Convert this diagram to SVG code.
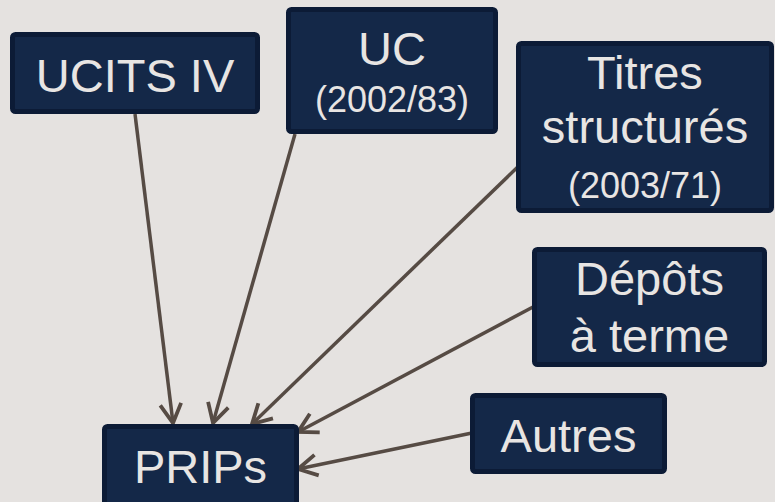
<svg xmlns="http://www.w3.org/2000/svg" width="775" height="502" viewBox="0 0 775 502">
  <style>
    .box { fill: #142848; stroke: #0c1b36; stroke-width: 5; }
    .lbl { fill: #e8e5e3; font-family: "Liberation Sans", Arial, sans-serif; text-anchor: middle; }
    .big { font-size: 47px; }
    .small { font-size: 36px; }
    .link { stroke: #564b44; stroke-width: 3.5; fill: none; marker-end: url(#chev); }
  </style>
  <defs>
    <marker id="chev" markerUnits="userSpaceOnUse" markerWidth="40" markerHeight="40" viewBox="-30 -20 40 40" refX="0" refY="0" orient="auto" overflow="visible">
      <path d="M -19 -10.5 L 0 0 L -19 10.5" fill="none" stroke="#564b44" stroke-width="3.8"/>
    </marker>
  </defs>
  <rect width="775" height="502" fill="#e5e2e0"/>

  <g id="connectors">
    <line class="link" x1="135" y1="114" x2="173" y2="423"/>
    <line class="link" x1="295" y1="134" x2="213" y2="423"/>
    <line class="link" x1="527" y1="158" x2="252" y2="424"/>
    <line class="link" x1="533" y1="307" x2="298" y2="432"/>
    <line class="link" x1="472" y1="433" x2="298" y2="469"/>
  </g>

  <g id="ucits">
    <rect class="box" x="12.5" y="34.5" width="245" height="77" rx="3"/>
    <text class="lbl big" x="135" y="92">UCITS IV</text>
  </g>

  <g id="uc">
    <rect class="box" x="288.5" y="9.5" width="207" height="122" rx="3"/>
    <text class="lbl big" x="392" y="65">UC</text>
    <text class="lbl small" x="392" y="112">(2002/83)</text>
  </g>

  <g id="titres">
    <rect class="box" x="518.5" y="43.5" width="253" height="167" rx="3"/>
    <text class="lbl big" x="645" y="89">Titres</text>
    <text class="lbl big" x="645" y="143">structurés</text>
    <text class="lbl small" x="645" y="198">(2003/71)</text>
  </g>

  <g id="depots">
    <rect class="box" x="534.5" y="249.5" width="230" height="115" rx="3"/>
    <text class="lbl big" x="649.5" y="295">Dépôts</text>
    <text class="lbl big" x="649.5" y="352">à terme</text>
  </g>

  <g id="autres">
    <rect class="box" x="472.5" y="395.5" width="192" height="76" rx="3"/>
    <text class="lbl big" x="568.5" y="452">Autres</text>
  </g>

  <g id="prips">
    <rect class="box" x="104.5" y="426.5" width="192" height="84" rx="3"/>
    <text class="lbl big" x="200.5" y="483">PRIPs</text>
  </g>
</svg>
